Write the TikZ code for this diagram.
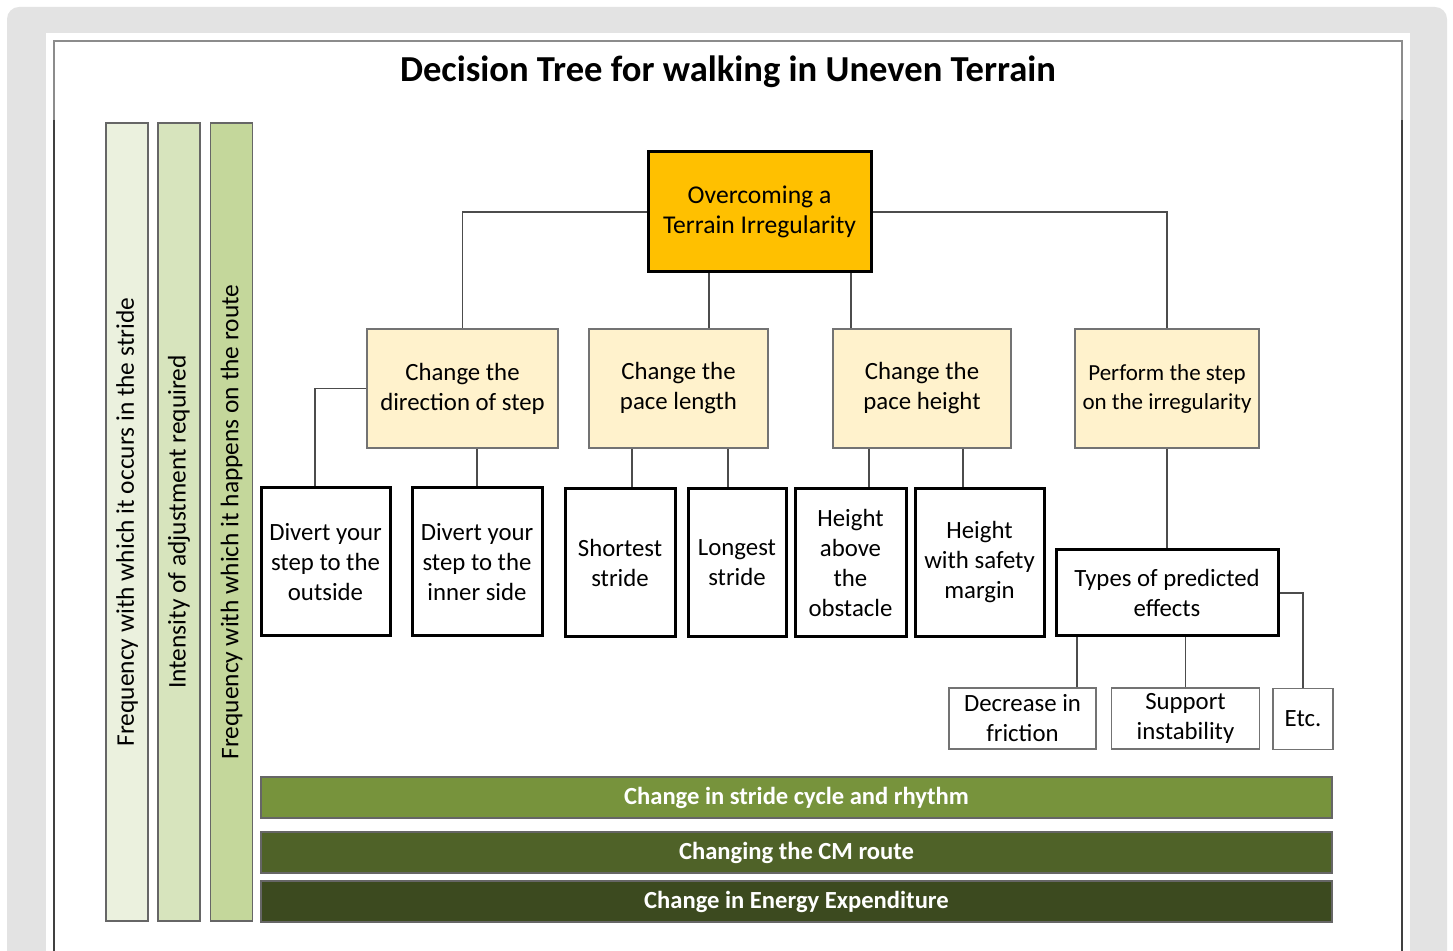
\documentclass[tikz,border=0pt]{standalone}
\usepackage{fontspec}
\setmainfont{Carlito}
\usetikzlibrary{calc}
\definecolor{framegrey}{HTML}{E3E3E3}
\definecolor{rootfill}{HTML}{FFC000}
\definecolor{midfill}{HTML}{FFF2CC}
\definecolor{side1}{HTML}{EBF1DE}
\definecolor{side2}{HTML}{D7E4BD}
\definecolor{side3}{HTML}{C4D79B}
\definecolor{band1}{HTML}{77933C}
\definecolor{band2}{HTML}{4F6228}
\definecolor{band3}{HTML}{3C4A1F}
\tikzset{
	rootbox/.style={draw=black,line width=1.5pt,fill=rootfill,align=center,minimum width=111.5pt,minimum height=60pt,font=\fontsize{12.8}{15}\selectfont},
	midbox/.style={draw=black!55,line width=0.75pt,fill=midfill,align=center,minimum height=59.5pt,font=\fontsize{12.4}{15}\selectfont},
	leafbox/.style={draw=black,line width=1.5pt,fill=white,align=center,minimum height=74pt,inner sep=1pt,font=\fontsize{12.4}{15}\selectfont},
	effbox/.style={draw=black!55,line width=0.75pt,fill=white,align=center,minimum height=30.5pt,inner sep=1pt,font=\fontsize{12.4}{15}\selectfont},
	sidebar/.style={draw=black!60,line width=0.75pt,rotate=90,minimum width=399pt,minimum height=21pt,font=\fontsize{12.7}{15}\selectfont},
	bandbox/.style={draw=black!60,line width=0.75pt,minimum width=535.5pt,minimum height=20.5pt,text=white,font=\bfseries\fontsize{12.3}{15}\selectfont},
	link/.style={draw=black!70,line width=0.75pt}
}
\begin{document}
\begin{tikzpicture}[x=0.5pt,y=-0.5pt]
	\clip (0,0) rectangle (1453,951);
	% frame
	\fill[framegrey,rounded corners=6pt] (7,7) rectangle (1447,990);
	\fill[white] (46,33) rectangle (1410,990);
	\draw[black!45,line width=0.75pt] (54,990) -- (54,41) -- (1402,41) -- (1402,990);
	\draw[black!75,line width=0.75pt] (54,120) -- (54,990) (1402,120) -- (1402,990);
	\node[font=\bfseries\fontsize{18.3}{22}\selectfont] (title) at (728,72) {Decision Tree for walking in Uneven Terrain};
	% side bars and bands
	\foreach \i/\x/\txt in {1/127/{Frequency with which it occurs in the stride},2/179/{Intensity of adjustment required},3/231.5/{Frequency with which it happens on the route}} {
		\node[sidebar,fill=side\i] (side\i) at (\x,522) {\txt};
	}
	\foreach \i/\y/\txt in {1/797.5/{Change in stride cycle and rhythm},2/852.5/{Changing the CM route},3/901.5/{Change in Energy Expenditure}} {
		\node[bandbox,fill=band\i] (band\i) at (796.5,\y) {\txt};
	}
	% tree
	\node[rootbox] (root) at (759.5,212) {Overcoming a\\Terrain Irregularity};
	\node[midbox,minimum width=95.5pt] (dir) at (462.5,388.5) {Change the\\direction of step};
	\node[midbox,minimum width=89.5pt] (len) at (678.5,388.5) {Change the\\pace length};
	\node[midbox,minimum width=89pt] (hgt) at (922,388.5) {Change the\\pace height};
	\node[midbox,minimum width=92pt,font=\fontsize{11.5}{14.5}\selectfont] (perf) at (1167,388.5) {Perform the step\\on the irregularity};
	\node[leafbox,minimum width=64.5pt] (outs) at (325.5,562) {Divert your\\step to the\\outside};
	\node[leafbox,minimum width=65pt] (inns) at (477,562) {Divert your\\step to the\\inner side};
	\node[leafbox,minimum width=55pt] (short) at (620,562.5) {Shortest\\stride};
	\node[leafbox,minimum width=49pt] (long) at (737,562.5) {Longest\\stride};
	\node[leafbox,minimum width=55.5pt] (above) at (850.5,562.5) {Height\\above\\the\\obstacle};
	\node[leafbox,minimum width=64.5pt] (safe) at (979.5,562.5) {Height\\with safety\\margin};
	\node[leafbox,minimum width=111pt,minimum height=43pt] (types) at (1167,593) {Types of predicted\\effects};
	\node[effbox,minimum width=73.5pt] (fric) at (1022.5,718.5) {Decrease in\\friction};
	\node[effbox,minimum width=74pt] (supp) at (1185.5,718.5) {Support\\instability};
	\node[effbox,minimum width=30pt] (etc) at (1303,719) {Etc.};
	% connectors
	\draw[link] (root.west) -| (dir.north);
	\draw[link] (root.east) -| (perf.north);
	\draw[link] ([xshift=15.25pt]len.north) -- ([xshift=15.25pt]len.north |- root.south);
	\draw[link] ([xshift=-35.5pt]hgt.north) -- ([xshift=-35.5pt]hgt.north |- root.south);
	\draw[link] (dir.west) -| ([xshift=-5.25pt]outs.north);
	\draw[link] (inns.north) -- (inns.north |- dir.south);
	\draw[link] ([xshift=6pt]short.north) -- ([xshift=6pt]short.north |- len.south);
	\draw[link] ([xshift=-4.5pt]long.north) -- ([xshift=-4.5pt]long.north |- len.south);
	\draw[link] ([xshift=9.25pt]above.north) -- ([xshift=9.25pt]above.north |- hgt.south);
	\draw[link] ([xshift=-8.25pt]safe.north) -- ([xshift=-8.25pt]safe.north |- hgt.south);
	\draw[link] (types.north) -- (perf.south);
	\draw[link] ([xshift=27.25pt]fric.north) -- ([xshift=27.25pt]fric.north |- types.south);
	\draw[link] (supp.north) -- (supp.north |- types.south);
	\draw[link] (types.east) -| (etc.north);
\end{tikzpicture}
\end{document}
